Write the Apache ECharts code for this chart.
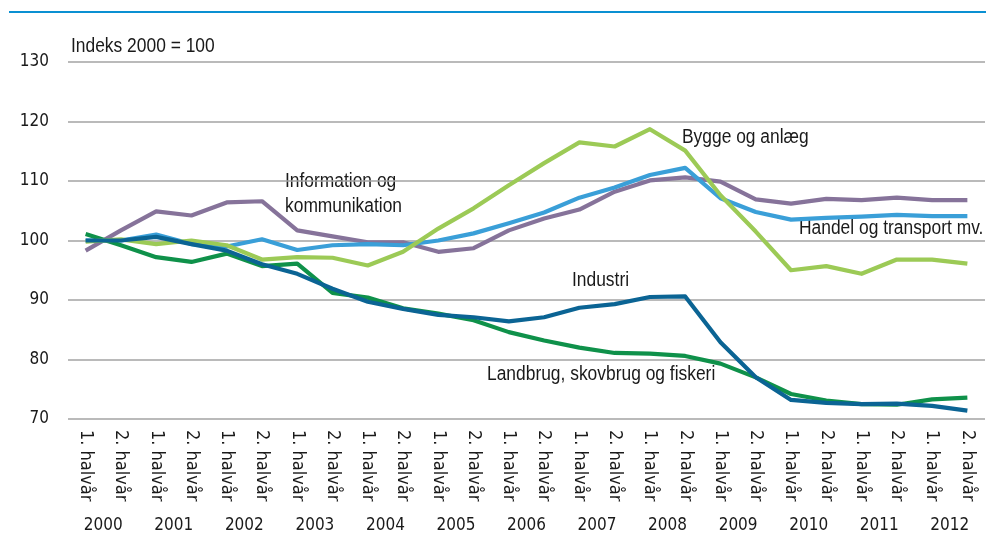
<!DOCTYPE html>
<html>
<head>
<meta charset="utf-8">
<script src="https://cdn.jsdelivr.net/npm/echarts@6/dist/echarts.min.js"></script>
<style>
  html, body { margin: 0; padding: 0; background: #fff; }
  #chart { width: 986px; height: 540px; }
</style>
</head>
<body>
<div id="chart"></div>
<script>
const years = ['2000', '2001', '2002', '2003', '2004', '2005', '2006', '2007', '2008', '2009', '2010', '2011', '2012']
const halves = []
years.forEach(() => { halves.push('1. halvår', '2. halvår') })

const industri = [100.0, 100.0, 100.6, 99.4, 98.3, 96.0, 94.4, 91.9, 89.7, 88.5, 87.5, 87.1, 86.4, 87.1, 88.7, 89.3, 90.5, 90.6, 82.9, 77.0, 73.2, 72.7, 72.5, 72.6, 72.2, 71.4]
const landbrug = [101.1, 99.2, 97.2, 96.4, 97.8, 95.7, 96.1, 91.2, 90.4, 88.6, 87.7, 86.6, 84.6, 83.2, 82.0, 81.1, 81.0, 80.6, 79.3, 77.0, 74.2, 73.1, 72.5, 72.4, 73.3, 73.6]
const bygge = [99.8, 100.2, 99.4, 100.0, 99.2, 96.8, 97.2, 97.1, 95.8, 98.1, 102.0, 105.4, 109.3, 113.0, 116.5, 115.8, 118.7, 115.1, 107.6, 101.5, 95.0, 95.7, 94.4, 96.8, 96.8, 96.1]
const handel = [100.0, 100.0, 101.0, 99.4, 99.0, 100.2, 98.4, 99.2, 99.4, 99.2, 100.0, 101.2, 102.9, 104.7, 107.2, 108.9, 111.0, 112.2, 107.1, 104.8, 103.5, 103.8, 104.0, 104.3, 104.1, 104.1]
const information = [98.3, 101.7, 104.9, 104.2, 106.4, 106.6, 101.7, 100.7, 99.7, 99.7, 98.1, 98.7, 101.7, 103.7, 105.2, 108.2, 110.1, 110.6, 109.9, 106.9, 106.2, 107.0, 106.8, 107.2, 106.8, 106.8]

const axisFont = "'DejaVu Sans Condensed', 'Liberation Sans', sans-serif"
const noteFont = "20px 'Liberation Sans', Arial, sans-serif"
const textColor = '#1a1a1a'

const chart = echarts.init(document.getElementById('chart'))

const line = (name, data, color) => ({
  name,
  type: 'line',
  data,
  symbol: 'none',
  lineStyle: { color, width: 4.2, join: 'round' },
  itemStyle: { color }
})

// tekst paa figuren, smallere skrift som i originalen
const note = (text, x, y) => ({
  type: 'text',
  x,
  y,
  scaleX: 0.87,
  style: { text, font: noteFont, fill: textColor, lineHeight: 25, verticalAlign: 'top' }
})

const option = {
  animation: false,
  grid: { left: 68, right: 1, top: 62, bottom: 121 },
  xAxis: [
    {
      type: 'category',
      data: halves,
      boundaryGap: true,
      axisLine: { show: false },
      axisTick: { show: false },
      axisLabel: {
        rotate: -90,
        margin: 11,
        interval: 0,
        color: textColor,
        fontFamily: axisFont,
        fontSize: 18
      }
    },
    {
      type: 'category',
      data: years,
      position: 'bottom',
      offset: 90,
      boundaryGap: true,
      axisLine: { show: false },
      axisTick: { show: false },
      axisLabel: {
        margin: 8,
        interval: 0,
        color: textColor,
        fontFamily: axisFont,
        fontSize: 17
      }
    }
  ],
  yAxis: {
    type: 'value',
    min: 70,
    max: 130,
    interval: 10,
    axisLine: { show: false },
    axisTick: { show: false },
    axisLabel: {
      margin: 19,
      color: textColor,
      fontFamily: axisFont,
      fontSize: 17
    },
    splitLine: { lineStyle: { color: '#a3a3a3', width: 1.5 } }
  },
  series: [
    line('Information og kommunikation', information, '#86739a'),
    line('Handel og transport mv.', handel, '#3a9fd8'),
    line('Landbrug, skovbrug og fiskeri', landbrug, '#0f914a'),
    line('Bygge og anlæg', bygge, '#9cca56'),
    line('Industri', industri, '#0b6494')
  ],
  graphic: [
    { type: 'line', shape: { x1: 9, y1: 12, x2: 986, y2: 12 }, style: { stroke: '#0a90d2', lineWidth: 2 } },
    note('Indeks 2000 = 100', 71, 34),
    note('Information og\nkommunikation', 285, 169),
    note('Bygge og anlæg', 682, 125),
    note('Handel og transport mv.', 799, 216),
    note('Industri', 572, 268),
    note('Landbrug, skovbrug og fiskeri', 487, 362)
  ]
}

chart.setOption(option)
</script>
</body>
</html>
